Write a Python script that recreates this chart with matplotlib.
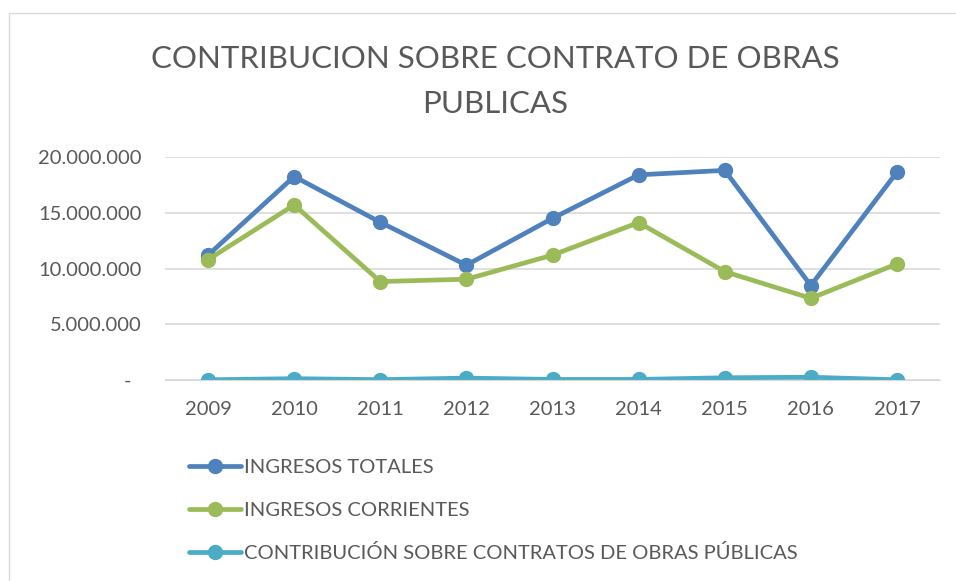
import matplotlib
matplotlib.use("Agg")
import matplotlib.pyplot as plt
from matplotlib.ticker import FuncFormatter, MultipleLocator
from matplotlib.patches import Rectangle

years = ["2009", "2010", "2011", "2012", "2013", "2014", "2015", "2016", "2017"]
ingresos_totales = [11200000, 18250000, 14150000, 10300000, 14500000, 18400000, 18800000, 8470000, 18640000]
ingresos_corrientes = [10800000, 15700000, 8830000, 9040000, 11200000, 14120000, 9720000, 7330000, 10410000]
contribucion = [20000, 120000, 30000, 170000, 50000, 50000, 200000, 250000, 20000]

labels = ["INGRESOS TOTALES", "INGRESOS CORRIENTES",
          "CONTRIBUCIÓN SOBRE CONTRATOS DE OBRAS PÚBLICAS"]
colors = ["#4F81BD", "#9BBB59", "#4BACC6"]
text_color = "#595959"

plt.rcParams['font.family'] = ['Lato', 'DejaVu Sans']

W, H = 956, 581
fig = plt.figure(figsize=(W / 100, H / 100), dpi=100)

# chart border
fig.patches.append(Rectangle((9 / W, -0.01), 1.0, (H - 13) / H + 0.01,
                             transform=fig.transFigure, fill=False,
                             edgecolor="#D9D9D9", linewidth=1.0))

ax = fig.add_axes([165 / W, (H - 380) / H, (940 - 165) / W, (380 - 157) / H])

x = list(range(len(years)))
for series, c, lab in zip([ingresos_totales, ingresos_corrientes, contribucion], colors, labels):
    ax.plot(x, series, color=c, linewidth=3.4, marker="o", markersize=10,
            label=lab, solid_capstyle="round")

ax.set_xlim(-0.5, len(years) - 0.5)
ax.set_ylim(0, 20000000)
ax.yaxis.set_major_locator(MultipleLocator(5000000))


def fmt(v, pos):
    if v == 0:
        return "-  "
    return f"{int(v):,}".replace(",", ".")


ax.yaxis.set_major_formatter(FuncFormatter(fmt))
ax.set_xticks(x)
ax.set_xticklabels(years)
ax.grid(axis="y", color="#D9D9D9", linewidth=1.2)
ax.set_axisbelow(True)
for s in ax.spines.values():
    s.set_visible(False)
ax.spines["bottom"].set_visible(True)
ax.spines["bottom"].set_color("#D9D9D9")
ax.tick_params(length=0, labelsize=14.5, colors=text_color)
ax.tick_params(axis="x", pad=15)
ax.tick_params(axis="y", pad=17)

title_x = 495 / W
fig.text(title_x, (H - 59) / H, "CONTRIBUCION SOBRE CONTRATO DE OBRAS",
         ha="center", va="center", fontsize=22.5, color=text_color)
fig.text(title_x, (H - 104) / H, "PUBLICAS",
         ha="center", va="center", fontsize=22.5, color=text_color)

leg = fig.legend(loc="upper left", bbox_to_anchor=(171 / W, (H - 441) / H),
                 frameon=False, fontsize=14.5, handlelength=2.6,
                 handletextpad=0.1, labelspacing=1.27, labelcolor=text_color)

fig.savefig("out.png", dpi=100)
